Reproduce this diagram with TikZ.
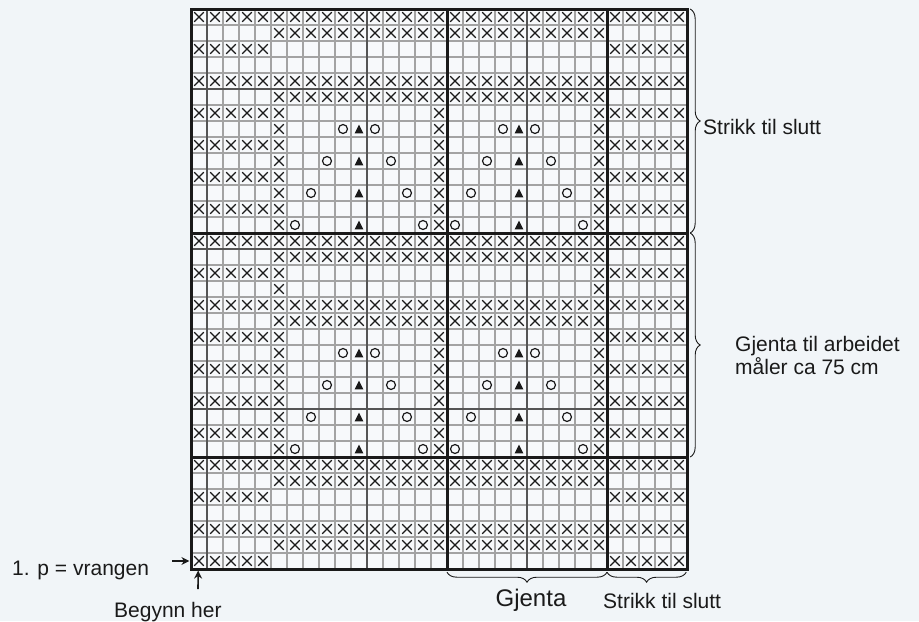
\documentclass[tikz,border=0pt]{standalone}
\usepackage{fontspec}
\setmainfont{Liberation Sans}
\usetikzlibrary{arrows.meta,decorations.pathreplacing}
\definecolor{papir}{HTML}{F1F5F8}
\definecolor{rute}{HTML}{F7F9FB}
\definecolor{tynnlinje}{HTML}{A3A3A3}
\definecolor{mellomlinje}{HTML}{555555}
\definecolor{blekk}{HTML}{1A1A1A}

\begin{document}
\begin{tikzpicture}[
  x=1pt, y=-1pt,
  tekst/.style={font=\fontsize{21}{23}\selectfont, text=blekk, inner sep=0pt},
  tynn/.style={draw=tynnlinje, line width=1.1pt},
  mellom/.style={draw=mellomlinje, line width=1.5pt},
  tykk/.style={draw=blekk, line width=3pt},
  klamme/.style={decorate, decoration={brace, amplitude=10pt}, draw=blekk, line width=0.9pt},
  pil/.style={-{Stealth[length=8pt, width=8pt]}, draw=blekk, line width=1.6pt},
  vrang/.pic={\draw[blekk, line width=1.2pt] (-.3,-.3) -- (.3,.3) (-.3,.3) -- (.3,-.3);},
  kast/.pic={\draw[blekk, line width=1.2pt] (0,0) circle[radius=.28];},
  fell/.pic={\fill[blekk] (-.27,.27) -- (.27,.27) -- (0,-.28) -- cycle;}
]

% ---------- Bakgrunn ----------
\fill[papir] (0,0) rectangle (919,621);

% ---------- Diagram ----------
\begin{scope}[shift={(191,9)}, x=16pt, y=-16pt]
  \fill[rute] (0,0) rectangle (31,35);
  \foreach \c in {1,...,30} \draw[tynn] (\c,0) -- (\c,35);
  \foreach \r in {1,...,34} \draw[tynn] (0,\r) -- (31,\r);

  % hele rader
  \foreach \r in {0,4,14,18,28,32}
    \foreach \c in {0,...,30} \pic at (\c+.5,\r+.5) {vrang};
  \foreach \r in {1,5,15,19,29,33}
    \foreach \c in {5,...,25} \pic at (\c+.5,\r+.5) {vrang};
  \foreach \r in {2,30,34} {
    \foreach \c in {0,...,4} \pic at (\c+.5,\r+.5) {vrang};
    \foreach \c in {26,...,30} \pic at (\c+.5,\r+.5) {vrang};
  }
  % kanter
  \foreach \r in {6,8,10,12,20,22,24,26} {
    \foreach \c in {0,...,5,15} \pic at (\c+.5,\r+.5) {vrang};
    \foreach \c in {25,...,30} \pic at (\c+.5,\r+.5) {vrang};
  }
  \foreach \c in {0,...,5} \pic at (\c+.5,16.5) {vrang};
  \foreach \c in {25,...,30} \pic at (\c+.5,16.5) {vrang};
  \foreach \c in {5,25} \pic at (\c+.5,17.5) {vrang};
  % mønster
  \foreach \r/\k in {7/1,9/2,11/3,13/4,21/1,23/2,25/3,27/4} {
    \foreach \c in {5,15,25} \pic at (\c+.5,\r+.5) {vrang};
    \foreach \m in {10,20} {
      \pic at (\m+.5,\r+.5) {fell};
      \pic at (\m-\k+.5,\r+.5) {kast};
      \pic at (\m+\k+.5,\r+.5) {kast};
    }
  }

  \foreach \c in {1,11,21} \draw[mellom] (\c,0) -- (\c,35);
  \foreach \r in {5,15,25} \draw[mellom] (0,\r) -- (31,\r);
  \foreach \c in {16,26} \draw[tykk] (\c,0) -- (\c,35);
  \foreach \r in {14,28} \draw[tykk] (0,\r) -- (31,\r);
  \draw[tykk] (0,0) rectangle (31,35);

  \coordinate (h0) at (31.2,0);
  \coordinate (h1) at (31.2,14);
  \coordinate (h2) at (31.2,28);
  \coordinate (b0) at (16,35.2);
  \coordinate (b1) at (26,35.2);
  \coordinate (b2) at (30.95,35.2);
  \coordinate (radmaal) at (-.1,34.5);
  \coordinate (maskemaal) at (.45,35.1);
\end{scope}

% ---------- Klammer og tekst ----------
\draw[klamme] (h0) -- (h1);
\draw[klamme] (h1) -- (h2);
\draw[klamme] (b1) -- (b0);
\draw[klamme] (b2) -- (b1);
\node[tekst, anchor=west] (sluttopp) at (703,127) {Strikk til slutt};
\node[tekst, anchor=west, align=left] (gjentahoyde) at (735,355) {Gjenta til arbeidet\\måler ca 75 cm};
\node[tekst, font=\fontsize{24}{26}\selectfont, anchor=base] (gjentabredde) at (531,606) {Gjenta};
\node[tekst, anchor=base west] (sluttbredde) at (603,608) {Strikk til slutt};

% ---------- Start ----------
\node[tekst, anchor=base west] (vrangen) at (12,575) {1. p = vrangen};
\node[tekst, anchor=base west] (begynn) at (114,617) {Begynn her};
\coordinate (radstart) at (172,561);
\coordinate (maskestart) at (198,589);
\draw[pil] (radstart) -- (radmaal);
\draw[pil] (maskestart) -- (maskemaal);

\end{tikzpicture}
\end{document}
